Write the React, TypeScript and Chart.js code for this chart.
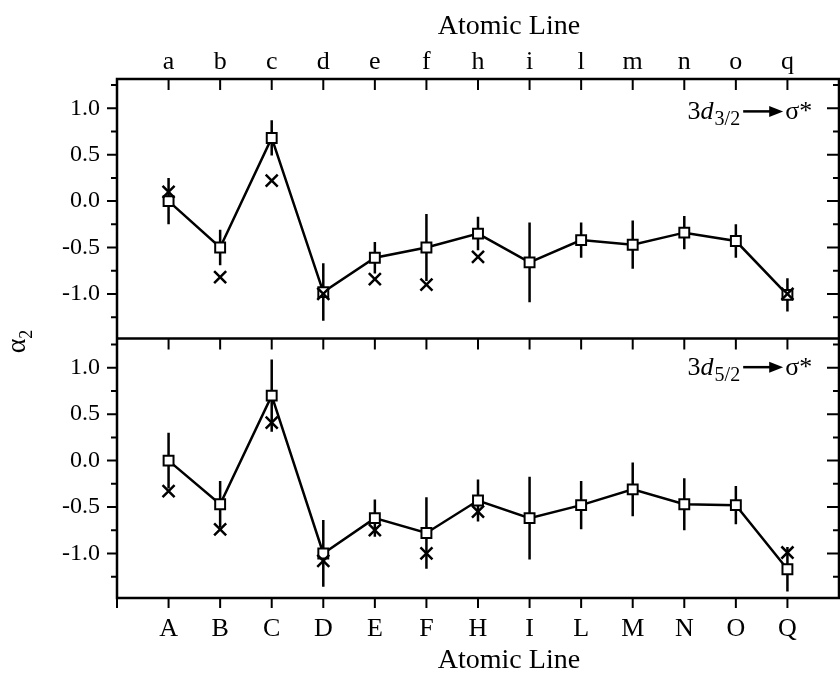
import React, { useEffect, useRef } from 'react';
import { Chart, registerables } from 'chart.js';

Chart.register(...registerables);

const bottomLabels = ['A', 'B', 'C', 'D', 'E', 'F', 'H', 'I', 'L', 'M', 'N', 'O', 'Q'];
const topLabels = ['a', 'b', 'c', 'd', 'e', 'f', 'h', 'i', 'l', 'm', 'n', 'o', 'q'];
const yMajorTicks = [-1, -0.5, 0, 0.5, 1];
const yMinorTicks = [-1.25, -0.75, -0.25, 0.25, 0.75, 1.25];
const yMin = -1.48;
const yMax = 1.315;
const xMin = -1;
const xMax = 13;

// upper panel: 3d3/2 -> sigma*
const upperSquares = [0.0, -0.5, 0.68, -0.98, -0.61, -0.5, -0.35, -0.66, -0.42, -0.47, -0.34, -0.43, -1.01];
const upperErrors = [0.25, 0.19, 0.19, 0.31, 0.17, 0.36, 0.18, 0.43, 0.19, 0.26, 0.18, 0.18, 0.18];
const upperCrosses = [0.1, -0.82, 0.22, -1.0, -0.84, -0.9, -0.6, null, null, null, null, null, -1.0];

// lower panel: 3d5/2 -> sigma*
const lowerSquares = [0.0, -0.47, 0.7, -1.0, -0.62, -0.78, -0.43, -0.62, -0.48, -0.31, -0.47, -0.48, -1.17];
const lowerErrors = [0.3, 0.25, 0.39, 0.36, 0.2, 0.385, 0.225, 0.445, 0.26, 0.29, 0.28, 0.205, 0.24];
const lowerCrosses = [-0.33, -0.74, 0.41, -1.08, -0.75, -1.0, -0.55, null, null, null, null, null, -0.99];

const FONT = '"Liberation Serif", "Times New Roman", serif';

const toXY = (arr: (number | null)[]) => arr.map((v, i) => ({ x: i, y: v }));

function drawAnnotation(ctx: CanvasRenderingContext2D, rightX: number, baseY: number, sub: string) {
  const mainFont = `26px ${FONT}`;
  const italFont = `italic 26px ${FONT}`;
  const subFont = `20px ${FONT}`;
  ctx.font = mainFont;
  const w3 = ctx.measureText('3').width;
  const wSig = ctx.measureText('σ*').width;
  ctx.font = italFont;
  const wd = ctx.measureText('d').width;
  ctx.font = subFont;
  const wSub = ctx.measureText(sub).width;
  const arrowLen = 40;
  const total = w3 + wd + 1 + wSub + 3 + arrowLen + 2 + wSig;
  let x = rightX - total;
  ctx.fillStyle = '#000';
  ctx.textBaseline = 'alphabetic';
  ctx.textAlign = 'left';
  ctx.font = mainFont;
  ctx.fillText('3', x, baseY);
  x += w3;
  ctx.font = italFont;
  ctx.fillText('d', x, baseY);
  x += wd + 1;
  ctx.font = subFont;
  ctx.fillText(sub, x, baseY + 6);
  x += wSub + 3;
  const ay = baseY - 8;
  ctx.strokeStyle = '#000';
  ctx.lineWidth = 2.5;
  ctx.beginPath();
  ctx.moveTo(x, ay);
  ctx.lineTo(x + arrowLen - 12, ay);
  ctx.stroke();
  ctx.beginPath();
  ctx.moveTo(x + arrowLen - 14, ay - 5.5);
  ctx.lineTo(x + arrowLen, ay);
  ctx.lineTo(x + arrowLen - 14, ay + 5.5);
  ctx.closePath();
  ctx.fill();
  x += arrowLen + 2;
  ctx.font = mainFont;
  ctx.fillText('σ*', x, baseY);
}

const panelPlugin = {
  id: 'panelFrame',
  beforeDatasetsDraw(chart: any) {
    const ctx: CanvasRenderingContext2D = chart.ctx;
    const xs = chart.scales.x;
    const panels = [
      { y: chart.scales.yTop, vals: upperSquares, errs: upperErrors },
      { y: chart.scales.yBottom, vals: lowerSquares, errs: lowerErrors },
    ];
    ctx.save();
    ctx.strokeStyle = '#000';
    ctx.lineWidth = 2.5;
    ctx.beginPath();
    for (const p of panels) {
      p.vals.forEach((v, i) => {
        const e = p.errs[i];
        const px = xs.getPixelForValue(i);
        ctx.moveTo(px, p.y.getPixelForValue(v + e));
        ctx.lineTo(px, p.y.getPixelForValue(v - e));
      });
    }
    ctx.stroke();
    ctx.restore();
  },
  afterDraw(chart: any) {
    const ctx: CanvasRenderingContext2D = chart.ctx;
    const { left, right, top, bottom } = chart.chartArea;
    const xs = chart.scales.x;
    const yTop = chart.scales.yTop;
    const yBottom = chart.scales.yBottom;
    const mid = yTop.bottom;
    ctx.save();
    ctx.strokeStyle = '#000';
    ctx.fillStyle = '#000';
    ctx.lineWidth = 2.5;
    ctx.lineCap = 'butt';
    ctx.beginPath();
    ctx.rect(left, top, right - left, bottom - top);
    ctx.moveTo(left, mid);
    ctx.lineTo(right, mid);
    ctx.stroke();

    ctx.lineWidth = 2;
    ctx.beginPath();
    bottomLabels.forEach((_, i) => {
      const px = xs.getPixelForValue(i);
      ctx.moveTo(px, top);
      ctx.lineTo(px, top + 11);
      ctx.moveTo(px, mid);
      ctx.lineTo(px, mid + 11);
      ctx.moveTo(px, bottom);
      ctx.lineTo(px, bottom + 10);
    });
    const edge = xs.getPixelForValue(xMin);
    ctx.moveTo(edge, bottom);
    ctx.lineTo(edge, bottom + 10);
    for (const ys of [yTop, yBottom]) {
      for (const v of yMajorTicks) {
        const py = ys.getPixelForValue(v);
        ctx.moveTo(left - 10, py);
        ctx.lineTo(left, py);
        ctx.moveTo(right - 12, py);
        ctx.lineTo(right, py);
      }
      for (const v of yMinorTicks) {
        const py = ys.getPixelForValue(v);
        ctx.moveTo(left - 6, py);
        ctx.lineTo(left, py);
        ctx.moveTo(right - 6, py);
        ctx.lineTo(right, py);
      }
    }
    ctx.stroke();

    // axis titles
    ctx.font = `28px ${FONT}`;
    ctx.textAlign = 'center';
    ctx.textBaseline = 'alphabetic';
    const titleX = xs.getPixelForValue(6.6);
    ctx.fillText('Atomic Line', titleX, top - 44.7);
    ctx.fillText('Atomic Line', titleX, bottom + 69.7);

    // y title alpha_2
    ctx.save();
    ctx.translate(left - 92, (top + bottom) / 2 + 3);
    ctx.rotate(-Math.PI / 2);
    ctx.textAlign = 'left';
    ctx.font = `28px ${FONT}`;
    const wa = ctx.measureText('α').width;
    ctx.font = `18px ${FONT}`;
    const w2 = ctx.measureText('2').width;
    const start = -(wa + w2) / 2;
    ctx.font = `28px ${FONT}`;
    ctx.fillText('α', start, 0);
    ctx.font = `18px ${FONT}`;
    ctx.fillText('2', start + wa, 7);
    ctx.restore();

    // panel annotations
    const ax = xs.getPixelForValue(12.48);
    drawAnnotation(ctx, ax, yTop.getPixelForValue(0.88), '3/2');
    drawAnnotation(ctx, ax, yBottom.getPixelForValue(0.92), '5/2');
    ctx.restore();
  },
};

const yScale = () => ({
  type: 'linear' as const,
  position: 'left' as const,
  stack: 'panels',
  stackWeight: 1,
  min: yMin,
  max: yMax,
  afterBuildTicks: (s: any) => {
    s.ticks = yMajorTicks.map((v) => ({ value: v }));
  },
  afterFit: (s: any) => {
    s.width = 117;
  },
  ticks: {
    padding: 17,
    color: '#000',
    font: { family: FONT, size: 24 },
    callback: (v: any) => Number(v).toFixed(1),
  },
  grid: { display: false, drawTicks: false },
  border: { display: false },
});

export default function App() {
  const ref = useRef<HTMLCanvasElement | null>(null);
  useEffect(() => {
    if (!ref.current) return;
    Chart.defaults.font.family = FONT;
    Chart.defaults.color = '#000';
    const crossStyle = {
      showLine: false,
      pointStyle: 'crossRot',
      pointRadius: 8.5,
      pointHoverRadius: 8.5,
      pointBorderWidth: 2.5,
      borderWidth: 2.5,
      borderColor: '#000',
      backgroundColor: '#000',
      pointBorderColor: '#000',
    };
    const squareStyle = {
      showLine: true,
      tension: 0,
      borderColor: '#000',
      borderWidth: 2.5,
      pointStyle: 'rect',
      pointRadius: 7,
      pointHoverRadius: 7,
      pointBackgroundColor: '#fff',
      pointBorderColor: '#000',
      pointBorderWidth: 2,
      backgroundColor: '#fff',
      fill: false,
    };
    const chart = new Chart(ref.current, {
      type: 'line',
      data: {
        datasets: [
          { label: 'upper x', data: toXY(upperCrosses), xAxisID: 'x', yAxisID: 'yTop', ...crossStyle } as any,
          { label: 'lower x', data: toXY(lowerCrosses), xAxisID: 'x', yAxisID: 'yBottom', ...crossStyle } as any,
          { label: '3d3/2', data: toXY(upperSquares), xAxisID: 'x', yAxisID: 'yTop', ...squareStyle } as any,
          { label: '3d5/2', data: toXY(lowerSquares), xAxisID: 'x', yAxisID: 'yBottom', ...squareStyle } as any,
        ],
      },
      options: {
        animation: false,
        responsive: false,
        maintainAspectRatio: false,
        layout: { padding: { left: 0, right: 8, top: 0, bottom: 0 } },
        plugins: {
          legend: { display: false },
          tooltip: { enabled: false },
          title: { display: false },
        },
        scales: {
          x: {
            type: 'linear',
            position: 'bottom',
            min: xMin,
            max: xMax,
            afterBuildTicks: (s: any) => {
              s.ticks = bottomLabels.map((_, i) => ({ value: i }));
            },
            afterFit: (s: any) => {
              s.height = 75;
            },
            ticks: {
              autoSkip: false,
              maxRotation: 0,
              padding: 15.9,
              color: '#000',
              font: { family: FONT, size: 26 },
              callback: (v: any) => bottomLabels[Number(v)] ?? '',
            },
            grid: { display: false, drawTicks: false },
            border: { display: false },
          },
          xTop: {
            type: 'linear',
            position: 'top',
            min: xMin,
            max: xMax,
            afterBuildTicks: (s: any) => {
              s.ticks = topLabels.map((_, i) => ({ value: i }));
            },
            afterFit: (s: any) => {
              s.height = 79;
            },
            ticks: {
              autoSkip: false,
              maxRotation: 0,
              padding: 1.5,
              color: '#000',
              font: { family: FONT, size: 26 },
              callback: (v: any) => topLabels[Number(v)] ?? '',
            },
            grid: { display: false, drawTicks: false },
            border: { display: false },
          },
          yBottom: yScale() as any,
          yTop: yScale() as any,
        },
      } as any,
      plugins: [panelPlugin],
    });
    return () => chart.destroy();
  }, []);
  return (
    <div
      style={{
        position: 'fixed',
        left: 0,
        top: 0,
        width: 840,
        height: 673,
        overflow: 'hidden',
        background: '#fff',
      }}
    >
      <canvas ref={ref} width={850} height={673} style={{ display: 'block' }} />
    </div>
  );
}
